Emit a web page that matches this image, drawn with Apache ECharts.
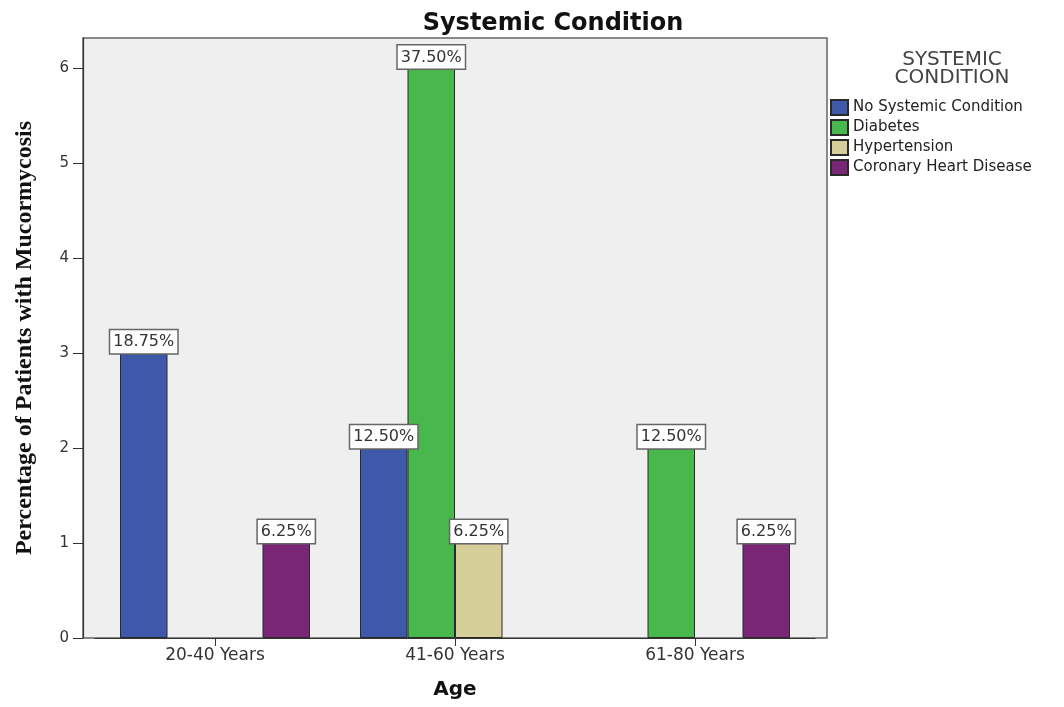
<!DOCTYPE html>
<html>
<head>
<meta charset="utf-8">
<script src="https://cdn.jsdelivr.net/npm/echarts@6/dist/echarts.min.js"></script>
<style>
  html, body { margin: 0; padding: 0; background: #ffffff; }
  #chart { width: 1064px; height: 707px; }
</style>
</head>
<body>
<div id="chart"></div>
<script>
// Age groups on the x axis
const ageGroups = ['20-40 Years', '41-60 Years', '61-80 Years'];

// Patient counts per systemic condition, one value per age group
const noSystemic = [3, 2, 0];
const diabetes = [0, 6, 2];
const hypertension = [0, 1, 0];
const coronary = [1, 0, 1];

const seriesNames = ['No Systemic Condition', 'Diabetes', 'Hypertension', 'Coronary Heart Disease'];
const seriesValues = [noSystemic, diabetes, hypertension, coronary];
const seriesColors = ['#3e58aa', '#48b84c', '#d5ce98', '#792677'];

// Y axis tick values
const yTicks = [0, 1, 2, 3, 4, 5, 6];

const total = seriesValues.flat().reduce((a, b) => a + b, 0);
const FONT = 'DejaVu Sans';

const chart = echarts.init(document.getElementById('chart'));

const series = seriesNames.map((name, i) => ({
  name: name,
  type: 'bar',
  xAxisIndex: 0,
  yAxisIndex: 0,
  barWidth: 47.5,
  barGap: '0%',
  data: seriesValues[i].map(v => (v === 0 ? null : v)),
  itemStyle: { color: seriesColors[i], borderColor: '#2a2a2a', borderWidth: 1 },
  label: {
    show: true,
    position: 'top',
    distance: 0,
    formatter: p => (p.value * 100 / total).toFixed(2) + '%',
    fontFamily: FONT,
    fontSize: 16,
    color: '#333',
    backgroundColor: '#ffffff',
    borderColor: '#666',
    borderWidth: 1.5,
    padding: [4, 3, 3, 3]
  }
}));

chart.setOption({
  animation: false,
  backgroundColor: '#ffffff',
  title: [
    {
      text: 'Systemic Condition',
      left: 548,
      top: 7,
      textAlign: 'center',
      textStyle: { fontFamily: FONT, fontSize: 24, fontWeight: 'bold', color: '#111' }
    },
    {
      text: 'SYSTEMIC\nCONDITION',
      left: 947,
      top: 46,
      textAlign: 'center',
      textStyle: { fontFamily: FONT, fontSize: 20, fontWeight: 'normal', color: '#444', lineHeight: 18 }
    }
  ],
  legend: {
    orient: 'vertical',
    left: 830,
    top: 99,
    padding: 0,
    itemWidth: 17,
    itemHeight: 15,
    itemGap: 3,
    icon: 'rect',
    data: seriesNames,
    textStyle: { fontFamily: FONT, fontSize: 15, color: '#222' }
  },
  grid: [
    { left: 95, right: 249, top: 38, bottom: 69, containLabel: false },
    {
      left: 83, right: 237, top: 38, bottom: 69, show: true,
      backgroundColor: '#efefef', borderColor: '#666', borderWidth: 1.5, z: 0
    }
  ],
  xAxis: [
    {
      type: 'category',
      gridIndex: 0,
      data: ageGroups,
      name: 'Age',
      nameLocation: 'middle',
      nameGap: 42,
      nameTextStyle: { fontFamily: FONT, fontSize: 20, fontWeight: 'bold', color: '#111' },
      axisLine: { show: true, lineStyle: { color: '#333', width: 1.2 } },
      axisTick: { show: true, alignWithLabel: true, length: 8, lineStyle: { color: '#333' } },
      axisLabel: { fontFamily: FONT, fontSize: 17, color: '#333', margin: 9 }
    },
    { type: 'value', gridIndex: 1, show: false }
  ],
  yAxis: [
    {
      type: 'value',
      gridIndex: 0,
      min: 0,
      max: 6.32,
      interval: 1,
      offset: 12,
      name: 'Percentage of Patients with Mucormycosis',
      nameLocation: 'middle',
      nameGap: 46,
      nameTextStyle: { fontFamily: 'Liberation Serif', fontSize: 24, fontWeight: 'bold', color: '#111' },
      splitLine: { show: false },
      axisLine: { show: true, lineStyle: { color: '#333', width: 1.2 } },
      axisTick: { show: true, length: 10, customValues: yTicks, lineStyle: { color: '#333' } },
      axisLabel: { fontFamily: FONT, fontSize: 15, color: '#333', margin: 14, customValues: yTicks }
    },
    { type: 'value', gridIndex: 1, show: false }
  ],
  series: series
});
</script>
</body>
</html>
